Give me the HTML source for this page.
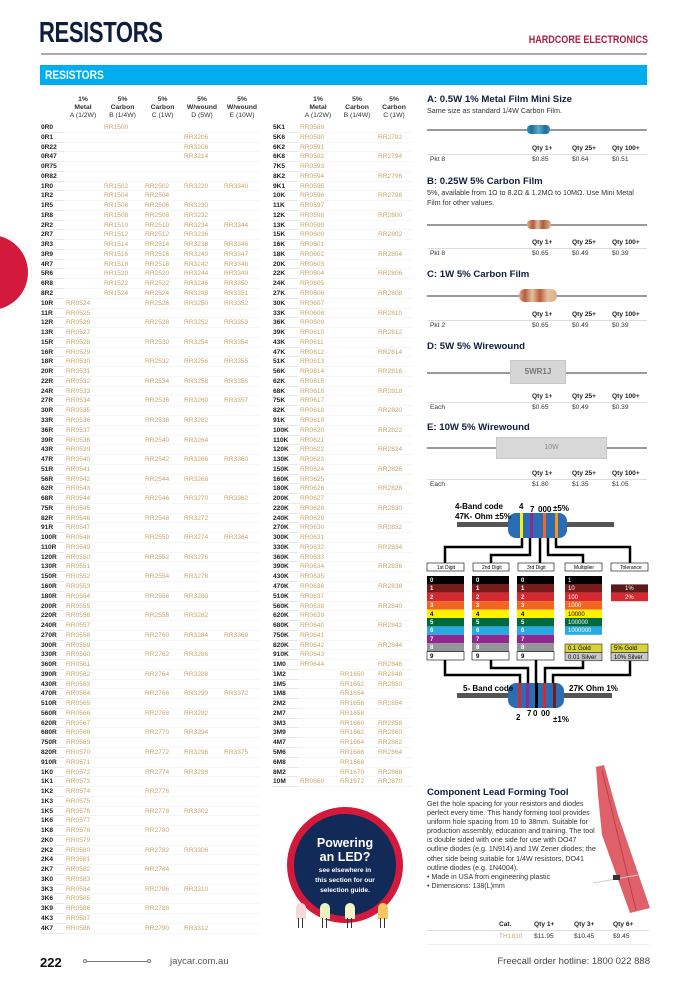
<!DOCTYPE html>
<html><head><meta charset="utf-8">
<style>
*{margin:0;padding:0;box-sizing:border-box}
body{width:700px;height:987px;position:relative;background:#fff;font-family:"Liberation Sans",sans-serif;overflow:hidden;color:#222}
.a{position:absolute}
table{position:absolute;border-collapse:collapse;table-layout:fixed;font-size:6.6px}
td,th{height:9.76px;padding:0 0 0 2px;white-space:nowrap;overflow:hidden;line-height:9.76px;border:0}
tbody tr{height:9.76px}
tbody th{text-align:left;font-weight:bold;color:#222;padding-left:1px;box-shadow:inset 0 -0.6px #dcdcdc}
tbody td{color:#c9a66b;box-shadow:inset 0 -0.6px #f0f0f0}
thead th{height:30px;font-size:6.8px;line-height:8px;font-weight:bold;text-align:center;color:#333;vertical-align:bottom;padding:0 0 3px 0}
thead th span{font-weight:normal}
.pt{font-weight:bold;font-size:9.6px;color:#0f1e3c}
.pd{font-size:7.2px;color:#333;line-height:9.5px}
.q{position:absolute;font-size:6.6px;color:#333}
.qh{font-weight:bold;color:#222}
.ln{position:absolute;height:0;border-top:1px solid #ddd}
.lead{position:absolute;height:1.5px;background:#999}
</style></head><body>
<div class="a" style="left:-50px;top:232px;width:81px;height:81px;border-radius:50%;background:#fff;box-shadow:0 0 2px #ddd"></div>
<div class="a" style="left:-47px;top:235px;width:75px;height:75px;border-radius:50%;background:#d31a3c"></div>

<div class="a" style="left:39px;top:17px;font-size:29px;font-weight:bold;color:#0f1e3c;letter-spacing:-0.5px;white-space:nowrap;transform:scaleX(0.76);transform-origin:left">RESISTORS</div>
<div class="a" style="left:450px;top:34px;width:198px;text-align:right;font-size:11px;font-weight:bold;color:#b01c45;white-space:nowrap;transform:scaleX(0.82);transform-origin:right">HARDCORE ELECTRONICS</div>
<div class="a" style="left:41px;top:53px;width:606px;height:1.5px;background:#b9a5ad"></div>
<div class="a" style="left:40px;top:65px;width:607px;height:20px;background:#00aeef"></div>
<div class="a" style="left:45px;top:68px;font-size:12px;font-weight:bold;color:#fff;white-space:nowrap;transform:scaleX(0.85);transform-origin:left">RESISTORS</div>

<table style="left:40px;top:93px;width:222px">
<colgroup><col style="width:24px"><col style="width:38px"><col style="width:41px"><col style="width:39px"><col style="width:40px"><col style="width:40px"></colgroup>
<thead><tr><th></th><th>1%<br>Metal<br><span>A (1/2W)</span></th><th>5%<br>Carbon<br><span>B (1/4W)</span></th><th>5%<br>Carbon<br><span>C (1W)</span></th><th>5%<br>W/wound<br><span>D (5W)</span></th><th>5%<br>W/wound<br><span>E (10W)</span></th></tr></thead>
<tbody>
<tr><th>0R0</th><td></td><td>RR1500</td><td></td><td></td><td></td></tr>
<tr><th>0R1</th><td></td><td></td><td></td><td>RR3206</td><td></td></tr>
<tr><th>0R22</th><td></td><td></td><td></td><td>RR3208</td><td></td></tr>
<tr><th>0R47</th><td></td><td></td><td></td><td>RR3214</td><td></td></tr>
<tr><th>0R75</th><td></td><td></td><td></td><td></td><td></td></tr>
<tr><th>0R82</th><td></td><td></td><td></td><td></td><td></td></tr>
<tr><th>1R0</th><td></td><td>RR1502</td><td>RR2502</td><td>RR3220</td><td>RR3340</td></tr>
<tr><th>1R2</th><td></td><td>RR1504</td><td>RR2504</td><td></td><td></td></tr>
<tr><th>1R5</th><td></td><td>RR1506</td><td>RR2506</td><td>RR3230</td><td></td></tr>
<tr><th>1R8</th><td></td><td>RR1508</td><td>RR2508</td><td>RR3232</td><td></td></tr>
<tr><th>2R2</th><td></td><td>RR1510</td><td>RR2510</td><td>RR3234</td><td>RR3344</td></tr>
<tr><th>2R7</th><td></td><td>RR1512</td><td>RR2512</td><td>RR3236</td><td></td></tr>
<tr><th>3R3</th><td></td><td>RR1514</td><td>RR2514</td><td>RR3238</td><td>RR3346</td></tr>
<tr><th>3R9</th><td></td><td>RR1516</td><td>RR2516</td><td>RR3240</td><td>RR3347</td></tr>
<tr><th>4R7</th><td></td><td>RR1518</td><td>RR2518</td><td>RR3242</td><td>RR3348</td></tr>
<tr><th>5R6</th><td></td><td>RR1520</td><td>RR2520</td><td>RR3244</td><td>RR3349</td></tr>
<tr><th>6R8</th><td></td><td>RR1522</td><td>RR2522</td><td>RR3246</td><td>RR3350</td></tr>
<tr><th>8R2</th><td></td><td>RR1524</td><td>RR2524</td><td>RR3248</td><td>RR3351</td></tr>
<tr><th>10R</th><td>RR0524</td><td></td><td>RR2526</td><td>RR3250</td><td>RR3352</td></tr>
<tr><th>11R</th><td>RR0525</td><td></td><td></td><td></td><td></td></tr>
<tr><th>12R</th><td>RR0526</td><td></td><td>RR2528</td><td>RR3252</td><td>RR3353</td></tr>
<tr><th>13R</th><td>RR0527</td><td></td><td></td><td></td><td></td></tr>
<tr><th>15R</th><td>RR0528</td><td></td><td>RR2530</td><td>RR3254</td><td>RR3354</td></tr>
<tr><th>16R</th><td>RR0529</td><td></td><td></td><td></td><td></td></tr>
<tr><th>18R</th><td>RR0530</td><td></td><td>RR2532</td><td>RR3256</td><td>RR3355</td></tr>
<tr><th>20R</th><td>RR0531</td><td></td><td></td><td></td><td></td></tr>
<tr><th>22R</th><td>RR0532</td><td></td><td>RR2534</td><td>RR3258</td><td>RR3356</td></tr>
<tr><th>24R</th><td>RR0533</td><td></td><td></td><td></td><td></td></tr>
<tr><th>27R</th><td>RR0534</td><td></td><td>RR2536</td><td>RR3260</td><td>RR3357</td></tr>
<tr><th>30R</th><td>RR0535</td><td></td><td></td><td></td><td></td></tr>
<tr><th>33R</th><td>RR0536</td><td></td><td>RR2538</td><td>RR3262</td><td></td></tr>
<tr><th>36R</th><td>RR0537</td><td></td><td></td><td></td><td></td></tr>
<tr><th>39R</th><td>RR0538</td><td></td><td>RR2540</td><td>RR3264</td><td></td></tr>
<tr><th>43R</th><td>RR0539</td><td></td><td></td><td></td><td></td></tr>
<tr><th>47R</th><td>RR0540</td><td></td><td>RR2542</td><td>RR3266</td><td>RR3360</td></tr>
<tr><th>51R</th><td>RR0541</td><td></td><td></td><td></td><td></td></tr>
<tr><th>56R</th><td>RR0542</td><td></td><td>RR2544</td><td>RR3268</td><td></td></tr>
<tr><th>62R</th><td>RR0543</td><td></td><td></td><td></td><td></td></tr>
<tr><th>68R</th><td>RR0544</td><td></td><td>RR2546</td><td>RR3270</td><td>RR3362</td></tr>
<tr><th>75R</th><td>RR0545</td><td></td><td></td><td></td><td></td></tr>
<tr><th>82R</th><td>RR0546</td><td></td><td>RR2548</td><td>RR3272</td><td></td></tr>
<tr><th>91R</th><td>RR0547</td><td></td><td></td><td></td><td></td></tr>
<tr><th>100R</th><td>RR0548</td><td></td><td>RR2550</td><td>RR3274</td><td>RR3364</td></tr>
<tr><th>110R</th><td>RR0549</td><td></td><td></td><td></td><td></td></tr>
<tr><th>120R</th><td>RR0550</td><td></td><td>RR2552</td><td>RR3276</td><td></td></tr>
<tr><th>130R</th><td>RR0551</td><td></td><td></td><td></td><td></td></tr>
<tr><th>150R</th><td>RR0552</td><td></td><td>RR2554</td><td>RR3278</td><td></td></tr>
<tr><th>160R</th><td>RR0553</td><td></td><td></td><td></td><td></td></tr>
<tr><th>180R</th><td>RR0554</td><td></td><td>RR2556</td><td>RR3280</td><td></td></tr>
<tr><th>200R</th><td>RR0555</td><td></td><td></td><td></td><td></td></tr>
<tr><th>220R</th><td>RR0556</td><td></td><td>RR2558</td><td>RR3282</td><td></td></tr>
<tr><th>240R</th><td>RR0557</td><td></td><td></td><td></td><td></td></tr>
<tr><th>270R</th><td>RR0558</td><td></td><td>RR2760</td><td>RR3284</td><td>RR3369</td></tr>
<tr><th>300R</th><td>RR0559</td><td></td><td></td><td></td><td></td></tr>
<tr><th>330R</th><td>RR0560</td><td></td><td>RR2762</td><td>RR3286</td><td></td></tr>
<tr><th>360R</th><td>RR0561</td><td></td><td></td><td></td><td></td></tr>
<tr><th>390R</th><td>RR0562</td><td></td><td>RR2764</td><td>RR3288</td><td></td></tr>
<tr><th>430R</th><td>RR0563</td><td></td><td></td><td></td><td></td></tr>
<tr><th>470R</th><td>RR0564</td><td></td><td>RR2766</td><td>RR3290</td><td>RR3372</td></tr>
<tr><th>510R</th><td>RR0565</td><td></td><td></td><td></td><td></td></tr>
<tr><th>560R</th><td>RR0566</td><td></td><td>RR2768</td><td>RR3292</td><td></td></tr>
<tr><th>620R</th><td>RR0567</td><td></td><td></td><td></td><td></td></tr>
<tr><th>680R</th><td>RR0568</td><td></td><td>RR2770</td><td>RR3294</td><td></td></tr>
<tr><th>750R</th><td>RR0569</td><td></td><td></td><td></td><td></td></tr>
<tr><th>820R</th><td>RR0570</td><td></td><td>RR2772</td><td>RR3296</td><td>RR3375</td></tr>
<tr><th>910R</th><td>RR0571</td><td></td><td></td><td></td><td></td></tr>
<tr><th>1K0</th><td>RR0572</td><td></td><td>RR2774</td><td>RR3298</td><td></td></tr>
<tr><th>1K1</th><td>RR0573</td><td></td><td></td><td></td><td></td></tr>
<tr><th>1K2</th><td>RR0574</td><td></td><td>RR2776</td><td></td><td></td></tr>
<tr><th>1K3</th><td>RR0575</td><td></td><td></td><td></td><td></td></tr>
<tr><th>1K5</th><td>RR0576</td><td></td><td>RR2778</td><td>RR3302</td><td></td></tr>
<tr><th>1K6</th><td>RR0577</td><td></td><td></td><td></td><td></td></tr>
<tr><th>1K8</th><td>RR0578</td><td></td><td>RR2780</td><td></td><td></td></tr>
<tr><th>2K0</th><td>RR0579</td><td></td><td></td><td></td><td></td></tr>
<tr><th>2K2</th><td>RR0580</td><td></td><td>RR2782</td><td>RR3306</td><td></td></tr>
<tr><th>2K4</th><td>RR0581</td><td></td><td></td><td></td><td></td></tr>
<tr><th>2K7</th><td>RR0582</td><td></td><td>RR2784</td><td></td><td></td></tr>
<tr><th>3K0</th><td>RR0583</td><td></td><td></td><td></td><td></td></tr>
<tr><th>3K3</th><td>RR0584</td><td></td><td>RR2786</td><td>RR3310</td><td></td></tr>
<tr><th>3K6</th><td>RR0585</td><td></td><td></td><td></td><td></td></tr>
<tr><th>3K9</th><td>RR0586</td><td></td><td>RR2788</td><td></td><td></td></tr>
<tr><th>4K3</th><td>RR0587</td><td></td><td></td><td></td><td></td></tr>
<tr><th>4K7</th><td>RR0588</td><td></td><td>RR2790</td><td>RR3312</td><td></td></tr>
</tbody></table>

<table style="left:272px;top:93px;width:140px">
<colgroup><col style="width:26px"><col style="width:40px"><col style="width:38px"><col style="width:36px"></colgroup>
<thead><tr><th></th><th>1%<br>Metal<br><span>A (1/2W)</span></th><th>5%<br>Carbon<br><span>B (1/4W)</span></th><th>5%<br>Carbon<br><span>C (1W)</span></th></tr></thead>
<tbody>
<tr><th>5K1</th><td>RR0589</td><td></td><td></td></tr>
<tr><th>5K6</th><td>RR0590</td><td></td><td>RR2792</td></tr>
<tr><th>6K2</th><td>RR0591</td><td></td><td></td></tr>
<tr><th>6K8</th><td>RR0592</td><td></td><td>RR2794</td></tr>
<tr><th>7K5</th><td>RR0593</td><td></td><td></td></tr>
<tr><th>8K2</th><td>RR0594</td><td></td><td>RR2796</td></tr>
<tr><th>9K1</th><td>RR0595</td><td></td><td></td></tr>
<tr><th>10K</th><td>RR0596</td><td></td><td>RR2798</td></tr>
<tr><th>11K</th><td>RR0597</td><td></td><td></td></tr>
<tr><th>12K</th><td>RR0598</td><td></td><td>RR2800</td></tr>
<tr><th>13K</th><td>RR0599</td><td></td><td></td></tr>
<tr><th>15K</th><td>RR0600</td><td></td><td>RR2802</td></tr>
<tr><th>16K</th><td>RR0601</td><td></td><td></td></tr>
<tr><th>18K</th><td>RR0602</td><td></td><td>RR2804</td></tr>
<tr><th>20K</th><td>RR0603</td><td></td><td></td></tr>
<tr><th>22K</th><td>RR0604</td><td></td><td>RR2806</td></tr>
<tr><th>24K</th><td>RR0605</td><td></td><td></td></tr>
<tr><th>27K</th><td>RR0606</td><td></td><td>RR2808</td></tr>
<tr><th>30K</th><td>RR0607</td><td></td><td></td></tr>
<tr><th>33K</th><td>RR0608</td><td></td><td>RR2810</td></tr>
<tr><th>36K</th><td>RR0609</td><td></td><td></td></tr>
<tr><th>39K</th><td>RR0610</td><td></td><td>RR2812</td></tr>
<tr><th>43K</th><td>RR0611</td><td></td><td></td></tr>
<tr><th>47K</th><td>RR0612</td><td></td><td>RR2814</td></tr>
<tr><th>51K</th><td>RR0613</td><td></td><td></td></tr>
<tr><th>56K</th><td>RR0614</td><td></td><td>RR2816</td></tr>
<tr><th>62K</th><td>RR0615</td><td></td><td></td></tr>
<tr><th>68K</th><td>RR0616</td><td></td><td>RR2818</td></tr>
<tr><th>75K</th><td>RR0617</td><td></td><td></td></tr>
<tr><th>82K</th><td>RR0618</td><td></td><td>RR2820</td></tr>
<tr><th>91K</th><td>RR0619</td><td></td><td></td></tr>
<tr><th>100K</th><td>RR0620</td><td></td><td>RR2822</td></tr>
<tr><th>110K</th><td>RR0621</td><td></td><td></td></tr>
<tr><th>120K</th><td>RR0622</td><td></td><td>RR2824</td></tr>
<tr><th>130K</th><td>RR0623</td><td></td><td></td></tr>
<tr><th>150K</th><td>RR0624</td><td></td><td>RR2826</td></tr>
<tr><th>160K</th><td>RR0625</td><td></td><td></td></tr>
<tr><th>180K</th><td>RR0626</td><td></td><td>RR2828</td></tr>
<tr><th>200K</th><td>RR0627</td><td></td><td></td></tr>
<tr><th>220K</th><td>RR0628</td><td></td><td>RR2830</td></tr>
<tr><th>240K</th><td>RR0629</td><td></td><td></td></tr>
<tr><th>270K</th><td>RR0630</td><td></td><td>RR2832</td></tr>
<tr><th>300K</th><td>RR0631</td><td></td><td></td></tr>
<tr><th>330K</th><td>RR0632</td><td></td><td>RR2834</td></tr>
<tr><th>360K</th><td>RR0633</td><td></td><td></td></tr>
<tr><th>390K</th><td>RR0634</td><td></td><td>RR2836</td></tr>
<tr><th>430K</th><td>RR0635</td><td></td><td></td></tr>
<tr><th>470K</th><td>RR0636</td><td></td><td>RR2838</td></tr>
<tr><th>510K</th><td>RR0637</td><td></td><td></td></tr>
<tr><th>560K</th><td>RR0638</td><td></td><td>RR2840</td></tr>
<tr><th>620K</th><td>RR0639</td><td></td><td></td></tr>
<tr><th>680K</th><td>RR0640</td><td></td><td>RR2842</td></tr>
<tr><th>750K</th><td>RR0641</td><td></td><td></td></tr>
<tr><th>820K</th><td>RR0642</td><td></td><td>RR2844</td></tr>
<tr><th>910K</th><td>RR0643</td><td></td><td></td></tr>
<tr><th>1M0</th><td>RR0644</td><td></td><td>RR2846</td></tr>
<tr><th>1M2</th><td></td><td>RR1650</td><td>RR2848</td></tr>
<tr><th>1M5</th><td></td><td>RR1652</td><td>RR2850</td></tr>
<tr><th>1M8</th><td></td><td>RR1654</td><td></td></tr>
<tr><th>2M2</th><td></td><td>RR1656</td><td>RR2854</td></tr>
<tr><th>2M7</th><td></td><td>RR1658</td><td></td></tr>
<tr><th>3M3</th><td></td><td>RR1660</td><td>RR2858</td></tr>
<tr><th>3M9</th><td></td><td>RR1662</td><td>RR2860</td></tr>
<tr><th>4M7</th><td></td><td>RR1664</td><td>RR2862</td></tr>
<tr><th>5M6</th><td></td><td>RR1666</td><td>RR2864</td></tr>
<tr><th>6M8</th><td></td><td>RR1668</td><td></td></tr>
<tr><th>8M2</th><td></td><td>RR1670</td><td>RR2868</td></tr>
<tr><th>10M</th><td>RR0660</td><td>RR1672</td><td>RR2870</td></tr>
</tbody></table>

<!-- Products -->
<div class="a pt" style="left:427px;top:94px">A: 0.5W 1% Metal Film Mini Size</div>
<div class="a pd" style="left:427px;top:106px">Same size as standard 1/4W Carbon Film.</div>
<div class="lead" style="left:427px;top:129px;width:220px"></div>
<div class="a" style="left:527px;top:125px;width:23px;height:9px;border-radius:4px;background:linear-gradient(90deg,#3a8fb5,#1f6f99 20%,#58a9cc 50%,#1f6f99 80%,#3a8fb5)"></div>
<div class="q qh" style="left:532px;top:145px">Qty 1+</div><div class="q qh" style="left:572px;top:145px">Qty 25+</div><div class="q qh" style="left:612px;top:145px">Qty 100+</div>
<div class="ln" style="left:427px;top:154px;width:220px"></div>
<div class="q" style="left:430px;top:156px">Pkt 8</div><div class="q" style="left:532px;top:156px">$0.85</div><div class="q" style="left:572px;top:156px">$0.64</div><div class="q" style="left:612px;top:156px">$0.51</div>

<div class="a pt" style="left:427px;top:176px">B: 0.25W 5% Carbon Film</div>
<div class="a pd" style="left:427px;top:188px;width:222px">5%, available from 1Ω to 8.2Ω &amp; 1.2MΩ to 10MΩ. Use Mini Metal Film for other values.</div>
<div class="lead" style="left:427px;top:224px;width:220px"></div>
<div class="a" style="left:527px;top:220px;width:24px;height:9px;border-radius:4px;background:linear-gradient(90deg,#d9b48a,#b0573f 25%,#e0c09a 45%,#b0573f 65%,#d9b48a)"></div>
<div class="q qh" style="left:532px;top:239px">Qty 1+</div><div class="q qh" style="left:572px;top:239px">Qty 25+</div><div class="q qh" style="left:612px;top:239px">Qty 100+</div>
<div class="ln" style="left:427px;top:248px;width:220px"></div>
<div class="q" style="left:430px;top:250px">Pkt 8</div><div class="q" style="left:532px;top:250px">$0.65</div><div class="q" style="left:572px;top:250px">$0.49</div><div class="q" style="left:612px;top:250px">$0.39</div>

<div class="a pt" style="left:427px;top:269px">C: 1W 5% Carbon Film</div>
<div class="lead" style="left:427px;top:295px;width:220px"></div>
<div class="a" style="left:519px;top:289px;width:38px;height:13px;border-radius:6px;background:linear-gradient(90deg,#dbb08a,#b85b40 15%,#e4c09c 35%,#b85b40 55%,#e4c09c 75%,#dbb08a)"></div>
<div class="q qh" style="left:532px;top:311px">Qty 1+</div><div class="q qh" style="left:572px;top:311px">Qty 25+</div><div class="q qh" style="left:612px;top:311px">Qty 100+</div>
<div class="ln" style="left:427px;top:320px;width:220px"></div>
<div class="q" style="left:430px;top:322px">Pkt 2</div><div class="q" style="left:532px;top:322px">$0.65</div><div class="q" style="left:572px;top:322px">$0.49</div><div class="q" style="left:612px;top:322px">$0.39</div>

<div class="a pt" style="left:427px;top:341px">D: 5W 5% Wirewound</div>
<div class="lead" style="left:427px;top:372px;width:220px"></div>
<div class="a" style="left:510px;top:360px;width:56px;height:24px;background:#d6d6d6;border:1px solid #c8c8c8;font-size:8px;color:#777;text-align:center;line-height:22px;font-weight:bold">5WR1J</div>
<div class="q qh" style="left:532px;top:393px">Qty 1+</div><div class="q qh" style="left:572px;top:393px">Qty 25+</div><div class="q qh" style="left:612px;top:393px">Qty 100+</div>
<div class="ln" style="left:427px;top:402px;width:220px"></div>
<div class="q" style="left:430px;top:404px">Each</div><div class="q" style="left:532px;top:404px">$0.65</div><div class="q" style="left:572px;top:404px">$0.49</div><div class="q" style="left:612px;top:404px">$0.39</div>

<div class="a pt" style="left:427px;top:422px">E: 10W 5% Wirewound</div>
<div class="lead" style="left:427px;top:447px;width:220px"></div>
<div class="a" style="left:496px;top:437px;width:111px;height:22px;background:#d8d8d8;border:1px solid #c8c8c8;font-size:7px;color:#888;text-align:center;line-height:20px">10W</div>
<div class="q qh" style="left:532px;top:470px">Qty 1+</div><div class="q qh" style="left:572px;top:470px">Qty 25+</div><div class="q qh" style="left:612px;top:470px">Qty 100+</div>
<div class="ln" style="left:427px;top:479px;width:220px"></div>
<div class="q" style="left:430px;top:481px">Each</div><div class="q" style="left:532px;top:481px">$1.80</div><div class="q" style="left:572px;top:481px">$1.35</div><div class="q" style="left:612px;top:481px">$1.05</div>

<svg class="a" style="left:420px;top:495px" width="240" height="235" viewBox="420 495 240 235" font-family="Liberation Sans Narrow, Liberation Sans, sans-serif">
<g stroke="#000" stroke-width="2.5" fill="none">
<polyline points="522,535 522,547 445,547 445,566"/>
<polyline points="530,535 530,555 491,555 491,566"/>
<polyline points="540,535 540,566"/>
<polyline points="548,535 548,555 583,555 583,566"/>
<polyline points="556,535 556,547 630,547 630,566"/>
<polyline points="445,660 445,675 520,675 520,690"/>
<polyline points="491,660 491,668 528,668 528,690"/>
<polyline points="536,660 536,690"/>
<polyline points="583,660 583,668 545,668 545,690"/>
<polyline points="630,660 630,675 553,675 553,690"/>
</g>
<rect x="457" y="522" width="52" height="5" fill="#555"/><rect x="566" y="522" width="48" height="5" fill="#555"/>
<rect x="508" y="513" width="59" height="25" rx="8" fill="#2a6db5"/>
<rect x="520" y="513" width="3" height="25" fill="#fff200"/><rect x="530" y="513" width="3" height="25" fill="#92278f"/><rect x="543" y="513" width="3" height="25" fill="#f26522"/><rect x="555" y="513" width="3" height="25" fill="#f7941d"/>
<rect x="457" y="693" width="52" height="5" fill="#555"/><rect x="562" y="693" width="50" height="5" fill="#555"/>
<rect x="508" y="683" width="56" height="25" rx="8" fill="#2a6db5"/>
<rect x="518" y="683" width="3" height="25" fill="#d7282f"/><rect x="526" y="683" width="3" height="25" fill="#92278f"/><rect x="535" y="683" width="3" height="25" fill="#000"/><rect x="543" y="683" width="3" height="25" fill="#d7282f"/><rect x="553" y="683" width="3" height="25" fill="#7b1a1a"/>
<g font-size="8" fill="#000" font-weight="bold">
<text x="455" y="509">4-Band code</text><text x="455" y="519">47K- Ohm ±5%</text>
<text x="519" y="509">4</text><text x="530" y="512">7</text><text x="538" y="512">000</text><text x="553" y="511">±5%</text>
<text x="463" y="691">5- Band code</text><text x="569" y="691">27K Ohm 1%</text>
<text x="516" y="720">2</text><text x="527" y="716">7</text><text x="533" y="716">0</text><text x="541" y="716">00</text><text x="553" y="722">±1%</text>
</g>
<g font-size="5" fill="#000" stroke="#000" stroke-width="0.6">
<rect x="427" y="563" width="37" height="8" fill="#fff"/><rect x="473" y="563" width="36" height="8" fill="#fff"/><rect x="518" y="563" width="36" height="8" fill="#fff"/><rect x="565" y="563" width="37" height="8" fill="#fff"/><rect x="611" y="563" width="37" height="8" fill="#fff"/>
</g>
<g font-size="5" fill="#000"><text x="437" y="569">1st Digit</text><text x="482" y="569">2nd Digit</text><text x="527" y="569">3rd Digit</text><text x="574" y="569">Multiplier</text><text x="620" y="569">Tolerance</text></g>
<g id="c">
<rect x="0" y="576" width="37" height="8.4" fill="#000"/><rect x="0" y="584.4" width="37" height="8.4" fill="#7b1a1a"/><rect x="0" y="592.8" width="37" height="8.4" fill="#d7282f"/><rect x="0" y="601.2" width="37" height="8.4" fill="#f26522"/><rect x="0" y="609.6" width="37" height="8.4" fill="#fff200"/><rect x="0" y="618" width="37" height="8.4" fill="#00693e"/><rect x="0" y="626.4" width="37" height="8.4" fill="#27aae1"/><rect x="0" y="634.8" width="37" height="8.4" fill="#92278f"/><rect x="0" y="643.2" width="37" height="8.4" fill="#939598"/><rect x="0" y="651.6" width="37" height="8.4" fill="#fff" stroke="#000" stroke-width="0.6"/>
</g>
<use href="#c" x="427"/><use href="#c" x="472"/><use href="#c" x="517"/>
<g font-size="6" font-weight="bold">
<g fill="#fff"><text x="430" y="582">0</text><text x="430" y="590">1</text><text x="430" y="599">2</text><text x="430" y="607">3</text><text x="430" y="624">5</text><text x="430" y="632">6</text><text x="430" y="641">7</text><text x="430" y="649">8</text></g><g fill="#000"><text x="430" y="616">4</text><text x="430" y="658">9</text></g>
<g fill="#fff"><text x="476" y="582">0</text><text x="476" y="590">1</text><text x="476" y="599">2</text><text x="476" y="607">3</text><text x="476" y="624">5</text><text x="476" y="632">6</text><text x="476" y="641">7</text><text x="476" y="649">8</text></g><g fill="#000"><text x="476" y="616">4</text><text x="476" y="658">9</text></g>
<g fill="#fff"><text x="521" y="582">0</text><text x="521" y="590">1</text><text x="521" y="599">2</text><text x="521" y="607">3</text><text x="521" y="624">5</text><text x="521" y="632">6</text><text x="521" y="641">7</text><text x="521" y="649">8</text></g><g fill="#000"><text x="521" y="616">4</text><text x="521" y="658">9</text></g>
</g>
<rect x="565" y="576" width="37" height="8.4" fill="#000"/><rect x="565" y="584.4" width="37" height="8.4" fill="#7b1a1a"/><rect x="565" y="592.8" width="37" height="8.4" fill="#d7282f"/><rect x="565" y="601.2" width="37" height="8.4" fill="#f26522"/><rect x="565" y="609.6" width="37" height="8.4" fill="#fff200"/><rect x="565" y="618" width="37" height="8.4" fill="#00693e"/><rect x="565" y="626.4" width="37" height="8.4" fill="#27aae1"/>
<rect x="565" y="644" width="37" height="8.4" fill="#d7d43a" stroke="#000" stroke-width="0.5"/><rect x="565" y="652.4" width="37" height="8.4" fill="#c8c8c8" stroke="#000" stroke-width="0.5"/>
<rect x="611" y="584.4" width="37" height="8.4" fill="#5a1a1a"/><rect x="611" y="592.8" width="37" height="8.4" fill="#d7282f"/>
<rect x="611" y="644" width="37" height="8.4" fill="#d7d43a" stroke="#000" stroke-width="0.5"/><rect x="611" y="652.4" width="37" height="8.4" fill="#c8c8c8" stroke="#000" stroke-width="0.5"/>
<g font-size="6" fill="#fff"><text x="568" y="582">1</text><text x="568" y="590">10</text><text x="568" y="599">100</text><text x="568" y="607">1000</text><text x="568" y="624">100000</text><text x="568" y="632">1000000</text><text x="625" y="590">1%</text><text x="625" y="599">2%</text></g>
<g font-size="6" fill="#000"><text x="568" y="616">10000</text><text x="568" y="650">0.1 Gold</text><text x="568" y="659">0.01 Silver</text><text x="614" y="650">5% Gold</text><text x="614" y="659">10% Silver</text></g>
</svg>

<!-- LED ad -->
<div class="a" style="left:287px;top:807px;width:116px;height:116px;border-radius:50%;background:#d31a3c"></div>
<div class="a" style="left:294px;top:814px;width:102px;height:102px;border-radius:50%;background:#112a57"></div>
<div class="a" style="left:294px;top:836px;width:102px;text-align:center;color:#fff;font-weight:bold;font-size:12.5px;line-height:14px">Powering<br>an LED?</div>
<div class="a" style="left:294px;top:866px;width:102px;text-align:center;color:#fff;font-weight:bold;font-size:6.6px;line-height:10px">see elsewhere in<br>this section for our<br>selection guide.</div>
<div class="a" style="left:296px;top:903px;width:10px;height:16px;border-radius:5px 5px 0 0;background:#f3dada"></div>
<div class="a" style="left:320px;top:903px;width:10px;height:16px;border-radius:5px 5px 0 0;background:#e6f3c2"></div>
<div class="a" style="left:345px;top:903px;width:10px;height:16px;border-radius:5px 5px 0 0;background:#f6f6c8"></div>
<div class="a" style="left:378px;top:903px;width:10px;height:16px;border-radius:5px 5px 0 0;background:#f6c660"></div>
<div class="a" style="left:298px;top:918px;width:1px;height:10px;background:#333;box-shadow:4px 0 #333,24px 0 #333,28px 0 #333,49px 0 #333,53px 0 #333,82px 0 #333,86px 0 #333"></div>

<!-- Tool -->
<svg class="a" style="left:588px;top:765px" width="65" height="150"><polygon points="8,2 16,0 30,50 62,143 42,148 14,70 10,30" fill="#e0606a"/><line x1="14" y1="5" x2="48" y2="145" stroke="#b8404a" stroke-width="1"/><line x1="5" y1="118" x2="50" y2="110" stroke="#ccc" stroke-width="1"/><rect x="25" y="110" width="7" height="5" fill="#333"/></svg>
<div class="a pt" style="left:427px;top:787px">Component Lead Forming Tool</div>
<div class="a pd" style="left:427px;top:800px;width:170px;font-size:7.1px;line-height:9.1px">Get the hole spacing for your resistors and diodes perfect every time. This handy forming tool provides uniform hole spacing from 10 to 38mm. Suitable for production assembly, education and training. The tool is double sided with one side for use with DO47 outline diodes (e.g. 1N914) and 1W Zener diodes; the other side being suitable for 1/4W resistors, DO41 outline diodes (e.g. 1N4004).<br>• Made in USA from engineering plastic<br>• Dimensions: 138(L)mm</div>
<div class="q qh" style="left:499px;top:921px">Cat.</div><div class="q qh" style="left:534px;top:921px">Qty 1+</div><div class="q qh" style="left:574px;top:921px">Qty 3+</div><div class="q qh" style="left:613px;top:921px">Qty 6+</div>
<div class="ln" style="left:427px;top:930px;width:222px"></div>
<div class="q" style="left:499px;top:933px;color:#c9a66b">TH1810</div><div class="q" style="left:534px;top:933px">$11.95</div><div class="q" style="left:574px;top:933px">$10.45</div><div class="q" style="left:613px;top:933px">$9.45</div>
<div class="ln" style="left:427px;top:944px;width:222px;border-color:#eee"></div>

<!-- footer -->
<div class="a" style="left:40px;top:955px;font-size:13px;font-weight:bold;color:#111">222</div>
<div class="a" style="left:85px;top:961px;width:64px;height:1px;background:#777"></div>
<div class="a" style="left:83px;top:959px;width:4px;height:4px;border:1px solid #777;border-radius:50%;background:#fff"></div>
<div class="a" style="left:147px;top:959px;width:4px;height:4px;border:1px solid #777;border-radius:50%;background:#fff"></div>
<div class="a" style="left:170px;top:956px;font-size:9.5px;color:#555">jaycar.com.au</div>
<div class="a" style="left:440px;top:956px;width:210px;text-align:right;font-size:9.5px;color:#444">Freecall order hotline: 1800 022 888</div>
</body></html>
